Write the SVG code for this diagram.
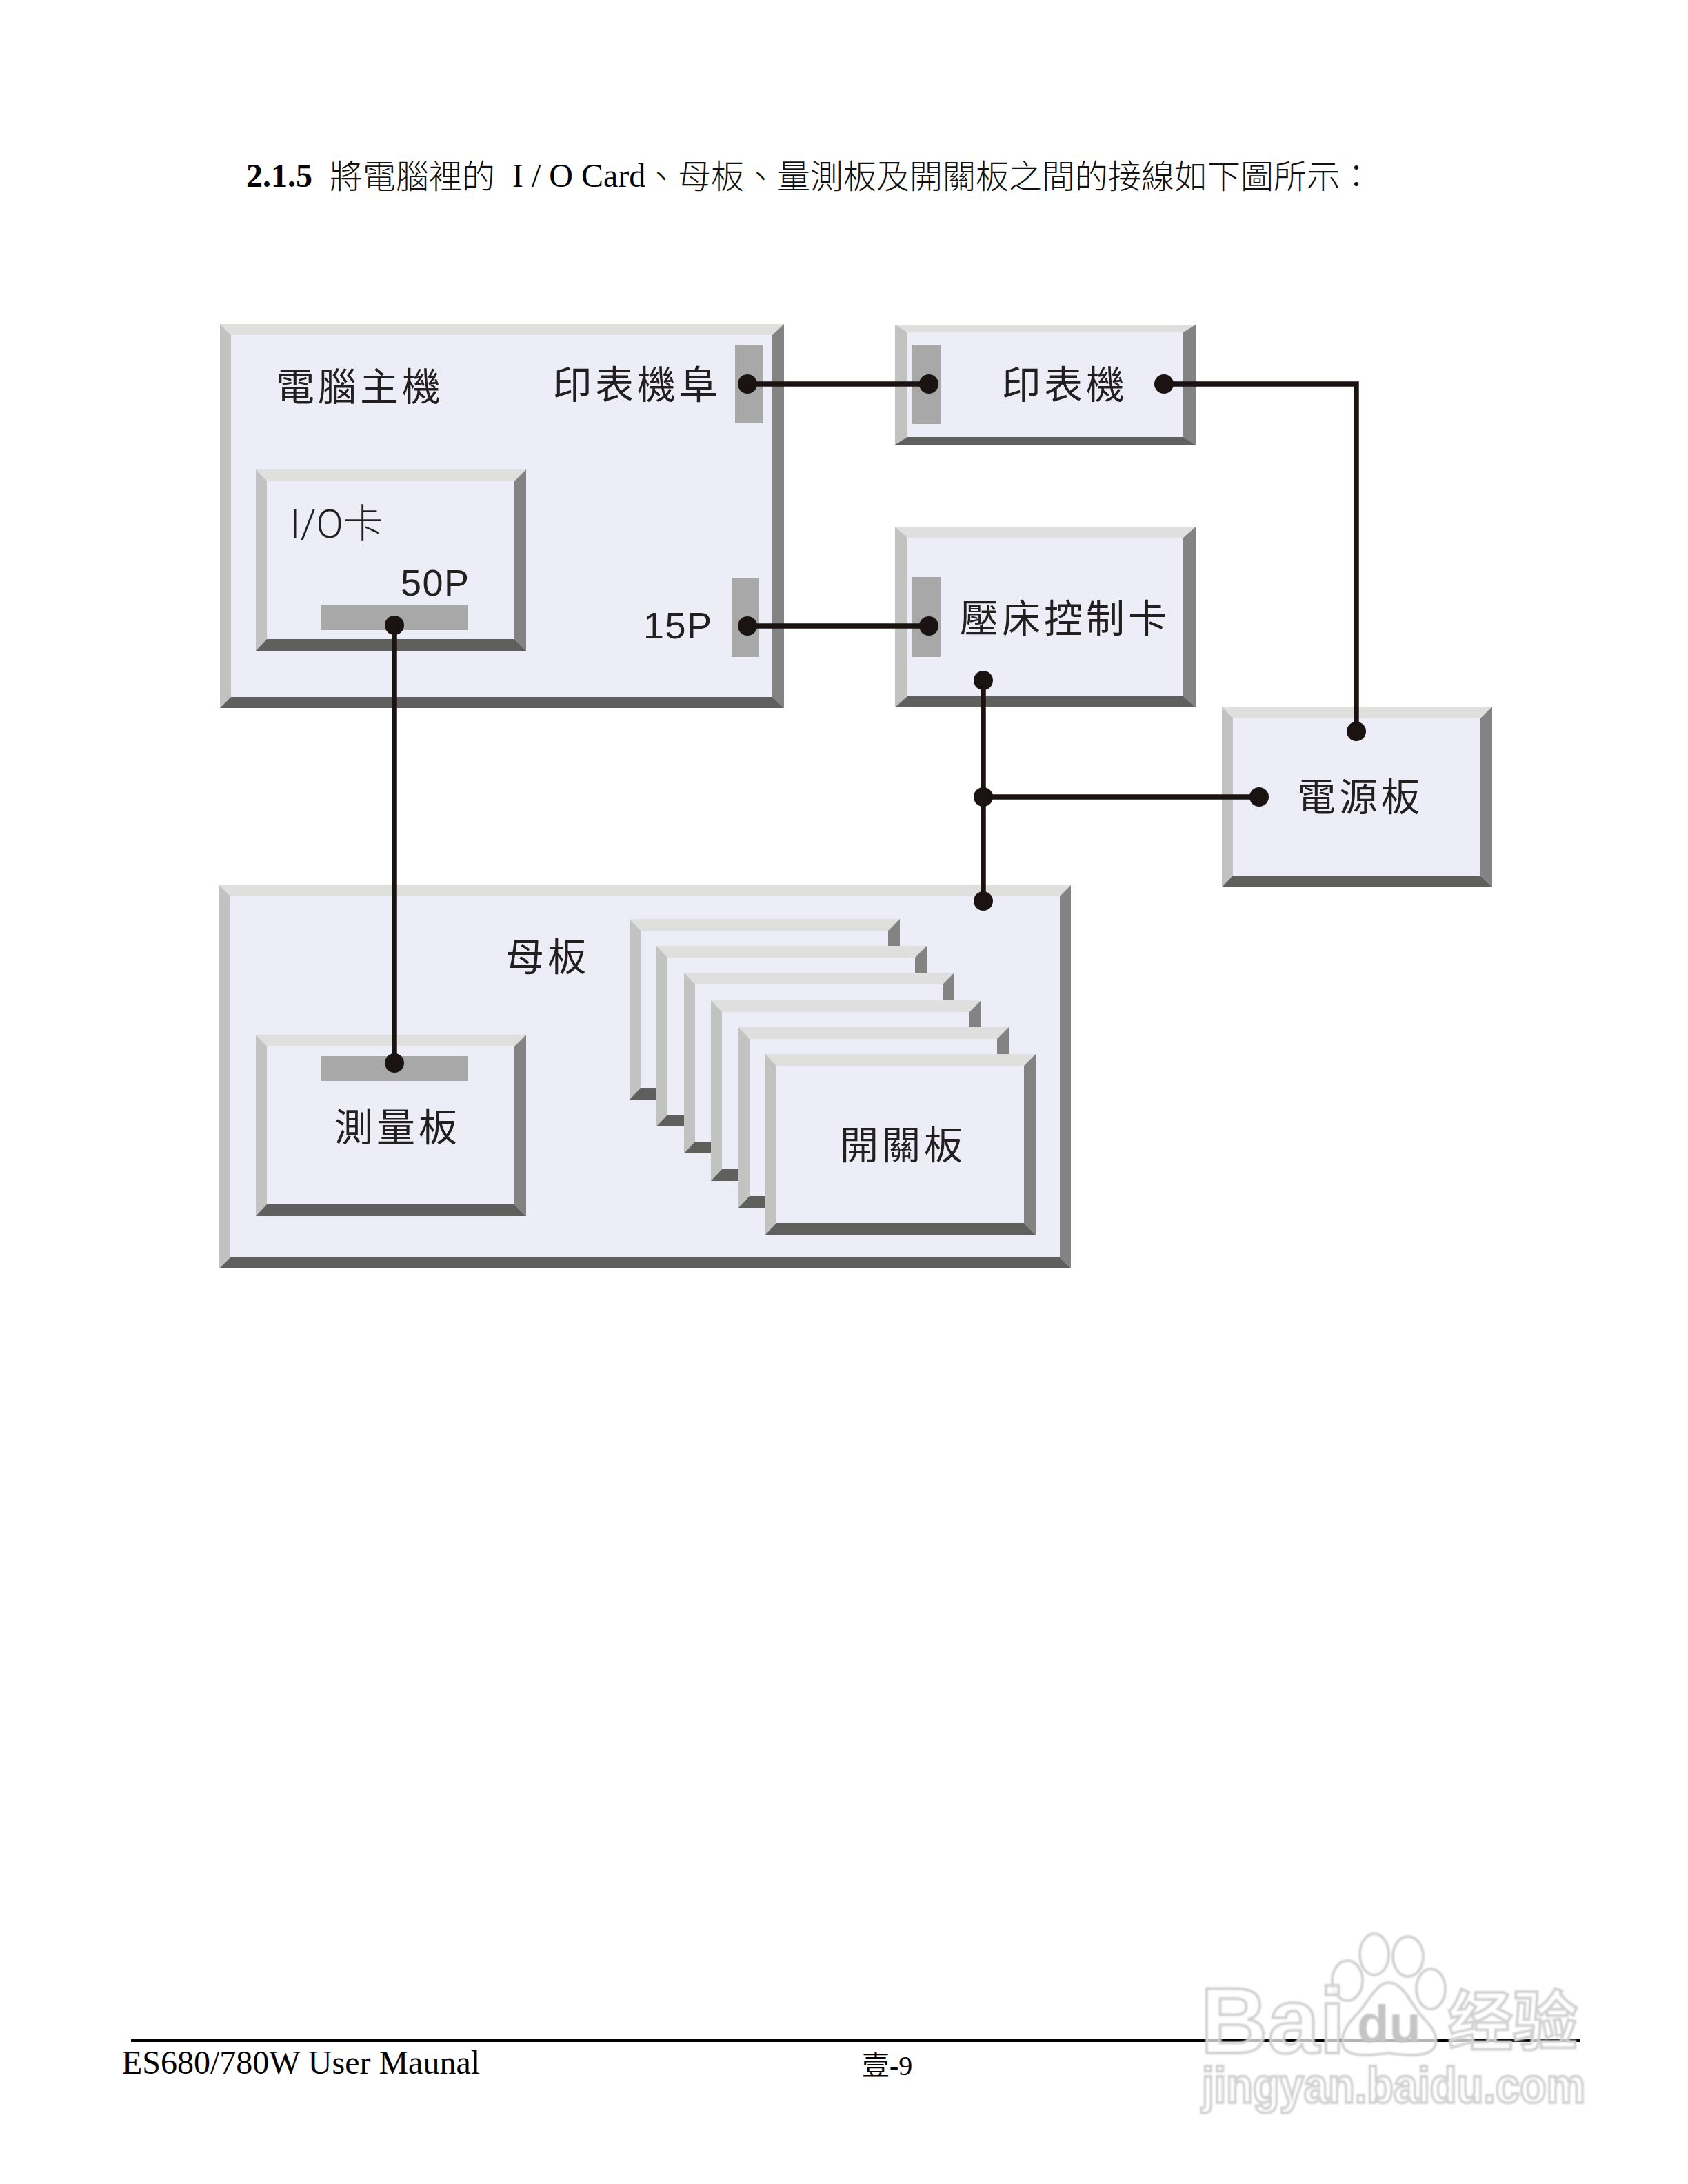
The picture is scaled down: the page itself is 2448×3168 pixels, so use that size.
<svg xmlns="http://www.w3.org/2000/svg" xmlns:xlink="http://www.w3.org/1999/xlink" width="2448" height="3168" viewBox="0 0 2448 3168">
<style>
.face{fill:#ecedf7}.t{fill:#dfe0dd}.l{fill:#c2c3c1}.r{fill:#838383}.b{fill:#5f5f5e}.port{fill:#a8a8a8}
.lbl{font-family:"Noto Sans CJK TC","Liberation Sans",sans-serif;font-size:56px;letter-spacing:5px;fill:#231f20;font-weight:400}
.num{font-family:"Liberation Sans","Noto Sans CJK TC",sans-serif;font-size:54px;letter-spacing:1.5px;fill:#231f20}
.io{font-family:Roboto,"Noto Sans CJK TC",sans-serif;font-size:58px;font-weight:300;fill:#231f20}
.doc{font-family:"Liberation Serif","Noto Sans CJK TC",serif;font-size:48px;fill:#000}
.cjk{font-family:"Noto Sans CJK TC","Liberation Serif",serif;font-size:48px;fill:#111;font-weight:300}
.wire{fill:none;stroke:#1a1311;stroke-width:7.5;stroke-linejoin:miter}
.dot{fill:#1a1311}
.wm{fill:#fff;fill-opacity:.7;stroke:#d2d2d2;stroke-width:4}
.wmt{font-family:"Liberation Sans","Noto Sans CJK SC",sans-serif;font-weight:700}
</style>
<defs>
<g id="b392">
<rect class="face" x="0" y="0" width="392" height="262"/>
<polygon class="t" points="0,0 392,0 375,17 16,17"/>
<polygon class="l" points="0,0 16,17 16,245 0,262"/>
<polygon class="r" points="392,0 392,262 375,245 375,17"/>
<polygon class="b" points="0,262 392,262 375,245 16,245"/>
</g>
<filter id="soft" x="-5%" y="-5%" width="110%" height="110%"><feGaussianBlur stdDeviation="1"/></filter>
</defs>
<rect width="2448" height="3168" fill="#fff"/>

<g id="heading">
<text class="doc" x="357" y="271" font-weight="700">2.1.5</text>
<text class="cjk" x="478" y="273">將電腦裡的</text>
<text class="doc" x="743" y="271">I / O Card</text>
<text class="cjk" x="935" y="273">、母板、量測板及開關板之間的接線如下圖所示：</text>
</g>

<g id="computer">
<rect class="face" x="319" y="470" width="818" height="557"/>
<polygon class="t" points="319,470 1137,470 1120,486 335,486"/>
<polygon class="l" points="319,470 335,486 335,1011 319,1027"/>
<polygon class="r" points="1137,470 1137,1027 1120,1011 1120,486"/>
<polygon class="b" points="319,1027 1137,1027 1120,1011 335,1011"/>
<text class="lbl" x="400" y="581">電腦主機</text>
<text class="lbl" x="802" y="578">印表機阜</text>
<rect class="port" x="1066" y="500" width="41" height="114"/>
<rect class="port" x="1061" y="838" width="40" height="115"/>
<text class="num" x="933" y="926">15P</text>
</g>
<g id="io-card" transform="translate(371 681)">
<use href="#b392" xlink:href="#b392" transform="scale(1 1.004)"/>
<text class="io" x="49" y="99">I/O卡</text>
<text class="num" x="210" y="183">50P</text>
<rect class="port" x="95" y="197" width="213" height="36"/>
</g>

<g id="printer">
<rect class="face" x="1298" y="471" width="436" height="174"/>
<polygon class="t" points="1298,471 1734,471 1716,482 1316,482"/>
<polygon class="l" points="1298,471 1316,482 1316,634 1298,645"/>
<polygon class="r" points="1734,471 1734,645 1716,634 1716,482"/>
<polygon class="b" points="1298,645 1734,645 1716,634 1316,634"/>
<rect class="port" x="1323" y="500" width="41" height="115"/>
<text class="lbl" x="1453" y="578">印表機</text>
</g>
<g id="press-card">
<rect class="face" x="1298" y="764" width="436" height="262"/>
<polygon class="t" points="1298,764 1734,764 1716,780 1316,780"/>
<polygon class="l" points="1298,764 1316,780 1316,1010 1298,1026"/>
<polygon class="r" points="1734,764 1734,1026 1716,1010 1716,780"/>
<polygon class="b" points="1298,1026 1734,1026 1716,1010 1316,1010"/>
<rect class="port" x="1323" y="837" width="41" height="116"/>
<text class="lbl" x="1392" y="917">壓床控制卡</text>
</g>
<g id="power" transform="translate(1772 1025)">
<use href="#b392" xlink:href="#b392"/>
<text class="lbl" x="109" y="151">電源板</text>
</g>
<g id="motherboard">
<rect class="face" x="318" y="1284" width="1235" height="556"/>
<polygon class="t" points="318,1284 1553,1284 1537,1300 334,1300"/>
<polygon class="l" points="318,1284 334,1300 334,1824 318,1840"/>
<polygon class="r" points="1553,1284 1553,1840 1537,1824 1537,1300"/>
<polygon class="b" points="318,1840 1553,1840 1537,1824 334,1824"/>
<text class="lbl" x="733" y="1408">母板</text>
</g>
<g id="measure" transform="translate(371 1501)">
<use href="#b392" xlink:href="#b392" transform="scale(1 1.004)"/>
<rect class="port" x="95" y="31" width="213" height="36"/>
<text class="lbl" x="114" y="154">測量板</text>
</g>
<g id="switch-1" transform="translate(913 1333)"><use href="#b392" xlink:href="#b392"/></g>
<g id="switch-2" transform="translate(952 1372)"><use href="#b392" xlink:href="#b392"/></g>
<g id="switch-3" transform="translate(992 1411)"><use href="#b392" xlink:href="#b392"/></g>
<g id="switch-4" transform="translate(1031 1451)"><use href="#b392" xlink:href="#b392"/></g>
<g id="switch-5" transform="translate(1071 1490)"><use href="#b392" xlink:href="#b392"/></g>
<g id="switch-6" transform="translate(1110 1529)">
<use href="#b392" xlink:href="#b392"/>
<text class="lbl" x="108" y="152">開關板</text>
</g>

<g id="connectors">
<path class="wire" d="M1084,557H1347"/>
<path class="wire" d="M1084,908H1347"/>
<path class="wire" d="M572,907V1542"/>
<path class="wire" d="M1688,557H1967V1061"/>
<path class="wire" d="M1426,987V1307"/>
<path class="wire" d="M1426,1156H1826"/>
<circle class="dot" cx="1084" cy="557" r="14"/>
<circle class="dot" cx="1084" cy="908" r="14"/>
<circle class="dot" cx="572" cy="907" r="14"/>
<circle class="dot" cx="572" cy="1542" r="14"/>
<circle class="dot" cx="1347" cy="557" r="14"/>
<circle class="dot" cx="1347" cy="908" r="14"/>
<circle class="dot" cx="1688" cy="557" r="14"/>
<circle class="dot" cx="1967" cy="1061" r="14"/>
<circle class="dot" cx="1426" cy="987" r="14"/>
<circle class="dot" cx="1426" cy="1156" r="14"/>
<circle class="dot" cx="1826" cy="1156" r="14"/>
<circle class="dot" cx="1426" cy="1307" r="14"/>
</g>

<g id="footer">
<rect x="190" y="2958" width="2101" height="4" fill="#000"/>
<text class="doc" x="177" y="3008">ES680/780W User Maunal</text>
<text class="doc" x="1250" y="3010" style="font-size:40px">壹-9</text>
</g>

<g id="watermark" filter="url(#soft)">
<ellipse class="wm" cx="1993" cy="2835" rx="21" ry="30"/>
<ellipse class="wm" cx="2042" cy="2838" rx="22" ry="29"/>
<ellipse class="wm" cx="1954" cy="2873" rx="22" ry="29"/>
<ellipse class="wm" cx="2075" cy="2885" rx="21" ry="29"/>
<path class="wm" d="M2014,2876C1995,2876 1985,2905 1965,2925C1950,2940 1945,2955 1947,2965C1950,2982 1975,2984 2014,2978C2050,2984 2078,2982 2082,2965C2085,2950 2075,2938 2062,2925C2045,2905 2035,2876 2014,2876Z"/>
<text class="wmt" x="1741" y="2978" font-size="135" fill="#fff" fill-opacity=".7" stroke="#d2d2d2" stroke-width="4">Bai</text>
<text class="wmt" x="1968" y="2962" font-size="76" fill="#c4c4c4" font-weight="400">du</text>
<text class="wmt" x="2100" y="2966" font-size="94" fill="#fff" fill-opacity=".7" stroke="#d2d2d2" stroke-width="4">经验</text>
<text class="wmt" x="1743" y="3050" font-size="72" textLength="556" lengthAdjust="spacingAndGlyphs" fill="#fff" fill-opacity=".7" stroke="#d2d2d2" stroke-width="4">jingyan.baidu.com</text>
</g>
</svg>
